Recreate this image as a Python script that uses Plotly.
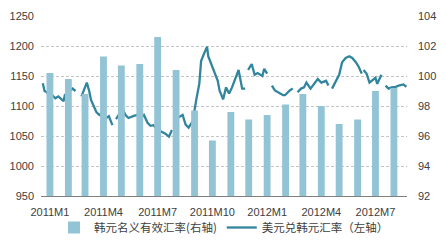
import plotly.graph_objects as go
import pandas as pd

# Monthly nominal effective KRW index (right axis)
months = ["2011-01-15","2011-02-15","2011-03-15","2011-04-15","2011-05-15","2011-06-15",
          "2011-07-15","2011-08-15","2011-09-15","2011-10-15","2011-11-15","2011-12-15",
          "2012-01-15","2012-02-15","2012-03-15","2012-04-15","2012-05-15","2012-06-15",
          "2012-07-15","2012-08-15"]
neer = [100.2, 99.8, 98.8, 101.3, 100.7, 100.8, 102.6, 100.4, 97.7, 95.7,
        97.6, 97.1, 97.4, 98.1, 98.8, 98.0, 96.8, 97.1, 99.0, 99.2]

# USD/KRW (left axis); None = gap in data
usd_dates = ["2011-01-03","2011-01-06","2011-01-11","2011-01-14","2011-01-19","2011-01-24","2011-01-29",
             "2011-02-07","2011-02-09","2011-02-15","2011-02-22","2011-02-27","2011-03-02",
             "2011-03-09","2011-03-15","2011-03-18","2011-03-22","2011-03-25",
             "2011-04-03","2011-04-08","2011-04-14","2011-04-19","2011-04-24","2011-04-30","2011-05-04",
             "2011-05-06","2011-05-11","2011-05-17","2011-05-22","2011-05-27",
             "2011-06-04","2011-06-10","2011-06-17","2011-06-22","2011-06-28",
             "2011-07-03","2011-07-08","2011-07-15","2011-07-20","2011-07-28",
             "2011-08-03","2011-08-08","2011-08-09","2011-08-10","2011-08-13","2011-08-17","2011-08-22",
             "2011-08-26","2011-08-31","2011-09-05","2011-09-12","2011-09-15","2011-09-18","2011-09-23",
             "2011-09-26","2011-09-30","2011-10-06","2011-10-08","2011-10-14","2011-10-19","2011-10-24",
             "2011-10-27","2011-11-02","2011-11-07","2011-11-12","2011-11-17","2011-11-25","2011-11-28",
             "2011-12-04","2011-12-09","2011-12-11","2011-12-14","2011-12-20","2011-12-25","2011-12-30",
             "2012-01-07","2012-01-10","2012-01-15","2012-01-19","2012-01-23","2012-01-28",
             "2012-02-06","2012-02-11","2012-02-14","2012-02-19","2012-02-22","2012-02-27","2012-03-01",
             "2012-03-06","2012-03-12","2012-03-17","2012-03-21","2012-03-28",
             "2012-04-04","2012-04-09","2012-04-15","2012-04-23","2012-04-27","2012-04-30",
             "2012-05-03","2012-05-10","2012-05-15","2012-05-20","2012-05-26",
             "2012-06-01","2012-06-06","2012-06-12","2012-06-17","2012-06-22","2012-06-23","2012-06-25",
             "2012-06-30","2012-07-05","2012-07-09","2012-07-15","2012-07-18","2012-07-23","2012-07-25",
             "2012-07-28","2012-08-01","2012-08-06","2012-08-11","2012-08-18","2012-08-23","2012-08-31",
             "2012-09-05"]
usd_krw = [1138, 1125, 1122, 1112, 1118, 1113, 1116,
           1108, 1118, 1123, 1129, 1125, None,
           1116, 1131, 1139, 1125, 1110,
           1090, 1085, 1090, 1080, 1083, 1068, None,
           1078, 1085, 1095, 1085, 1080,
           1083, 1085, 1080, 1085, 1072,
           1067, 1068, 1060, 1058, 1054,
           1049, 1060, None, 1093, None, 1080, 1083,
           1085, 1069, 1064, 1075, 1090, 1111, 1137,
           1175, 1185, 1199, 1183, 1168, 1154, 1142,
           1126, 1111, 1131, 1121, 1131, 1152, 1160,
           1129, 1129, None, 1160, 1170, 1152, 1155,
           1150, 1162, 1154, None, 1134, 1126,
           1121, 1118, 1118, 1123, 1126, 1129, None,
           1123, 1129, 1131, 1139, 1129,
           1139, 1145, 1139, 1142, 1134, None,
           1129, 1142, 1152, 1173, 1180,
           1183, 1180, 1173, 1165, 1154, None, 1160,
           1154, 1139, 1142, 1147, 1137, 1147, 1152,
           None, 1134, 1129, 1131, 1132, 1134, 1136,
           1132]

tick_vals = ["2011-01-15","2011-04-15","2011-07-15","2011-10-15","2012-01-15","2012-04-15","2012-07-15"]
tick_text = ["2011M1","2011M4","2011M7","2011M10","2012M1","2012M4","2012M7"]

bar_color = "#93C4D5"
line_color = "#31859C"
txt = "#404040"
font_num = "Liberation Sans"
font_cjk = "Noto Sans CJK SC"

fig = go.Figure()
fig.add_trace(go.Bar(
    x=pd.to_datetime(months), y=neer, yaxis="y2", name="韩元名义有效汇率(右轴)",
    marker=dict(color=bar_color, line=dict(width=0)),
    width=11.5 * 86400000,
))
fig.add_trace(go.Scatter(
    x=pd.to_datetime(usd_dates), y=usd_krw, mode="lines", name="美元兑韩元汇率（左轴）",
    line=dict(color=line_color, width=2.3), connectgaps=False,
))

fig.update_layout(
    width=446, height=252,
    margin=dict(l=40, r=37, t=10, b=48),
    paper_bgcolor="white", plot_bgcolor="white",
    showlegend=True,
    legend=dict(orientation="h", x=0.5, xanchor="center", y=-0.175, yanchor="middle",
                font=dict(family=font_cjk, size=11.5, color=txt),
                itemwidth=30, tracegroupgap=0, bgcolor="rgba(0,0,0,0)"),
    xaxis=dict(
        type="date", range=["2010-12-31", "2012-09-06"],
        tickmode="array", tickvals=pd.to_datetime(tick_vals), ticktext=tick_text,
        showgrid=False, showline=True, linecolor="#808080", linewidth=1,
        ticks="", ticklabelstandoff=6,
        tickfont=dict(family=font_num, size=11, color=txt),
        zeroline=False,
    ),
    yaxis=dict(
        range=[950, 1250], tickmode="linear", tick0=950, dtick=50,
        showgrid=True, gridcolor="#C4C4C4", griddash="3px,2px", gridwidth=1,
        showline=False, zeroline=False, ticks="", ticklabelstandoff=6,
        tickfont=dict(family=font_num, size=11, color=txt),
    ),
    yaxis2=dict(
        range=[92, 104], tickmode="linear", tick0=92, dtick=2,
        overlaying="y", side="right", showgrid=False, showline=False, zeroline=False,
        ticks="", ticklabelstandoff=10,
        tickfont=dict(family=font_num, size=11, color=txt),
    ),
)

fig.write_html("out.html")
